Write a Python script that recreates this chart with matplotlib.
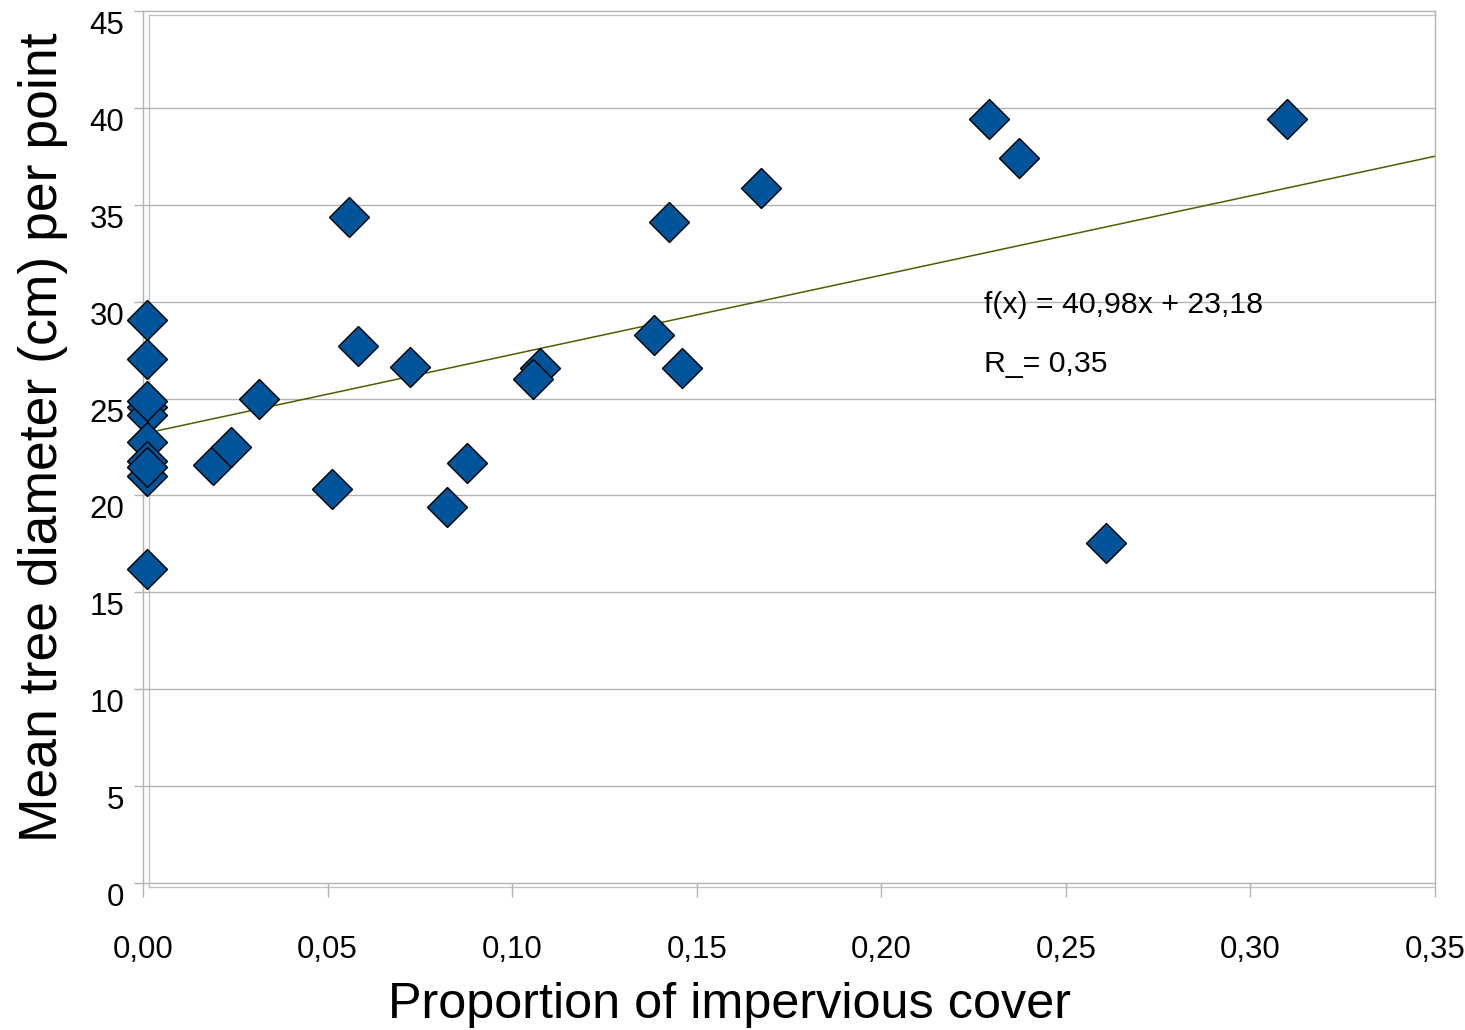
import matplotlib
matplotlib.use("Agg")
import matplotlib.pyplot as plt
from matplotlib.lines import Line2D
import numpy as np

plt.rcParams['font.family'] = ['Liberation Sans', 'DejaVu Sans']

# ---- data ----
impervious = [0.001, 0.001, 0.001, 0.001, 0.001, 0.001, 0.001, 0.001, 0.001, 0.001,
              0.0315, 0.0190, 0.0238,
              0.0559, 0.0583, 0.0723, 0.0511, 0.0824, 0.0879,
              0.1076, 0.1057,
              0.1426, 0.1383, 0.1461,
              0.1674, 0.2292, 0.2374, 0.2609, 0.3098]
diameter = [29.06, 27.03, 24.55, 24.14, 24.90, 22.74, 21.76, 20.99, 21.45, 16.20,
            24.98, 21.57, 22.48,
            34.36, 27.70, 26.65, 20.31, 19.39, 21.66,
            26.57, 26.00,
            34.14, 28.29, 26.57,
            35.86, 39.44, 37.41, 17.53, 39.46]
slope = 40.98
intercept = 23.18
equation_text = "f(x) = 40,98x + 23,18"
r2_text = "R_= 0,35"
x_ticks = [0.00, 0.05, 0.10, 0.15, 0.20, 0.25, 0.30, 0.35]
x_ticklabels = ["0,00", "0,05", "0,10", "0,15", "0,20", "0,25", "0,30", "0,35"]
y_ticks = [0, 5, 10, 15, 20, 25, 30, 35, 40, 45]
y_ticklabels = ["0", "5", "10", "15", "20", "25", "30", "35", "40", "45"]
x_label = "Proportion of impervious cover"
y_label = "Mean tree diameter (cm) per point"

W, H = 1465, 1030
fig = plt.figure(figsize=(W / 100, H / 100), dpi=100)
L, R, T, B = 143, 1435, 11.5, 882.5
ax = fig.add_axes([L / W, 1 - B / H, (R - L) / W, (B - T) / H])
ax.set_xlim(0, 0.35)
ax.set_ylim(0, 45)

grid_col = '#b3b3b3'
for s in ['top', 'bottom']:
    ax.spines[s].set_visible(False)
for s in ['left', 'right']:
    ax.spines[s].set_color(grid_col)
    ax.spines[s].set_linewidth(1.0)

ax.set_yticks(y_ticks)
ax.set_yticklabels(y_ticklabels)
ax.set_xticks(x_ticks)
ax.set_xticklabels(x_ticklabels)
ax.yaxis.grid(True, color=grid_col, linewidth=1.0)
ax.set_axisbelow(True)
for gl in ax.get_ygridlines():
    gl.set_clip_on(False)
ax.tick_params(axis='y', length=6.5, width=1.0, color=grid_col, pad=7,
               labelsize=22.5, labelcolor='black')
ax.tick_params(axis='x', length=10, width=1.0, color=grid_col, pad=28,
               labelsize=22.5, labelcolor='black')
for lab in ax.get_yticklabels():
    lab.set_va('top')

# inner wall frame (slightly offset)
dx = 5.7 / (R - L)
dy_top = 1 - (15 - T) / (B - T)
dy_bot = -(887 - B) / (B - T)
fc = '#c4c4c4'
for xs, ys in [([dx, dx], [dy_bot, dy_top]), ([dx, 1], [dy_top, dy_top]),
               ([dx, 1], [dy_bot, dy_bot])]:
    ax.add_line(Line2D(xs, ys, transform=ax.transAxes, color=fc, lw=1.0,
                       clip_on=False, zorder=0.5))

# trend line
xx = np.array([0.0, 0.35])
ax.plot(xx, slope * xx + intercept, color='#4f5f00', lw=1.1, zorder=2)

# points
ax.plot(impervious, diameter, linestyle='none', marker='D', ms=20.0,
        markerfacecolor='#00559a', markeredgecolor='black', markeredgewidth=1.0,
        zorder=3, clip_on=False)

fig.text(984 / W, 1 - 313 / H, equation_text, fontsize=21.8, ha='left', va='baseline')
fig.text(984 / W, 1 - 371.5 / H, r2_text, fontsize=21.8, ha='left', va='baseline')

fig.text(730 / W, 1 - 1018 / H, x_label, fontsize=36.3, ha='center', va='baseline')
fig.text(57 / W, 1 - 437.5 / H, y_label, fontsize=38.5, ha='center', va='baseline',
         rotation=90, rotation_mode='anchor')

fig.savefig('out.png', dpi=100)
